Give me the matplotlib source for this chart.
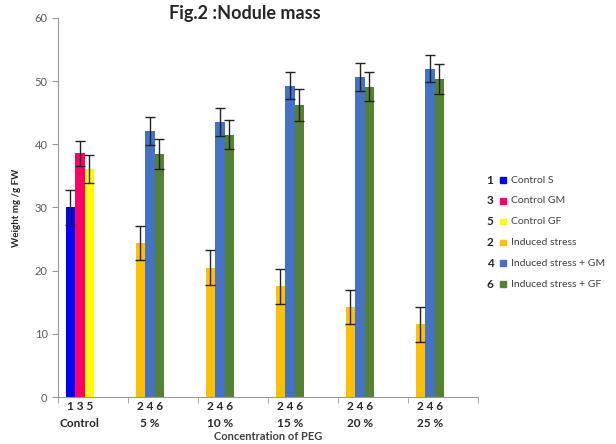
import numpy as np
import matplotlib.pyplot as plt
from matplotlib.patches import Rectangle

plt.rcParams['font.family'] = ['Lato', 'DejaVu Sans']

groups = ['Control', '5 %', '10 %', '15 %', '20 %', '25 %']
group_nums = ['1 3 5', '2 4 6', '2 4 6', '2 4 6', '2 4 6', '2 4 6']

# three bars per group: control uses S / GM / GF, the others stress / +GM / +GF
first = [30.0, 24.4, 20.5, 17.5, 14.3, 11.5]
second = [38.6, 42.1, 43.5, 49.3, 50.6, 52.0]
third = [36.1, 38.5, 41.5, 46.2, 49.1, 50.3]
first_err = [2.7, 2.7, 2.8, 2.8, 2.7, 2.8]
second_err = [2.0, 2.2, 2.2, 2.1, 2.2, 2.2]
third_err = [2.2, 2.4, 2.3, 2.5, 2.3, 2.4]

legend_nums = ['1', '3', '5', '2', '4', '6']
legend_labels = ['Control S', 'Control GM', 'Control GF', 'Induced stress',
                 'Induced stress + GM', 'Induced stress + GF']
legend_colors = ['#0000FF', '#FF0066', '#FFFF00', '#FFC000', '#4472C4', '#548235']

fig = plt.figure(figsize=(6.16, 4.44), dpi=100)
ax = fig.add_axes([58/616, 1-397/444, 420/616, 379/444])

x = np.arange(len(groups))
w = 0.135
off = 0.11
cols1 = ['#0000FF'] + ['#FFC000']*5
cols2 = ['#FF0066'] + ['#4472C4']*5
cols3 = ['#FFFF00'] + ['#548235']*5
ekw = dict(ecolor='#222222', elinewidth=1, capsize=3.5, capthick=1)
ax.bar(x + off, first, w, align='edge', color=cols1, yerr=first_err, error_kw=ekw)
ax.bar(x + off + w, second, w, align='edge', color=cols2, yerr=second_err, error_kw=ekw)
ax.bar(x + off + 2*w, third, w, align='edge', color=cols3, yerr=third_err, error_kw=ekw)

ax.set_xlim(0, len(groups))
ax.set_ylim(0, 60)
ax.set_yticks(range(0, 61, 10))
ax.tick_params(axis='y', labelsize=8, labelcolor='#595959', color='#999999', length=4)
ax.set_xticks(x + off + 1.5*w)
ax.set_xticklabels([n + '\n' + g for n, g in zip(group_nums, groups)],
                   fontsize=8.5, fontweight='bold', color='#262626', linespacing=1.6)
ax.tick_params(axis='x', which='major', length=0, pad=3)
ax.set_xticks(np.arange(0, len(groups)+1), minor=True)
ax.tick_params(axis='x', which='minor', length=4, color='#999999')

for s in ['top', 'right']:
    ax.spines[s].set_visible(False)
for s in ['left', 'bottom']:
    ax.spines[s].set_color('#999999')

ax.set_xlabel('Concentration of PEG', fontsize=8, fontweight='bold', color='#404040', labelpad=2)
ax.set_ylabel('Weight mg /g FW', fontsize=7, fontweight='bold', color='#262626')
ax.yaxis.set_label_coords(-0.088, 0.5)

fig.text(245/616, 1-14/444, 'Fig.2 :Nodule mass', fontsize=13, fontweight='bold',
         color='#262626', ha='center', va='center')

# legend: number, colour square, label
for i, (n, lab, c) in enumerate(zip(legend_nums, legend_labels, legend_colors)):
    yy = 1 - (180 + 20.8*i)/444
    fig.text(490/616, yy, n, fontsize=8.5, fontweight='bold', color='#262626',
             ha='center', va='center')
    fig.patches.append(Rectangle((500/616, yy - 2.8/444), 5.5/616, 5.5/444,
                                 transform=fig.transFigure, color=c, figure=fig))
    fig.text(511/616, yy, lab, fontsize=7.5, color='#404040', ha='left', va='center')

fig.savefig('out.png', dpi=100)
